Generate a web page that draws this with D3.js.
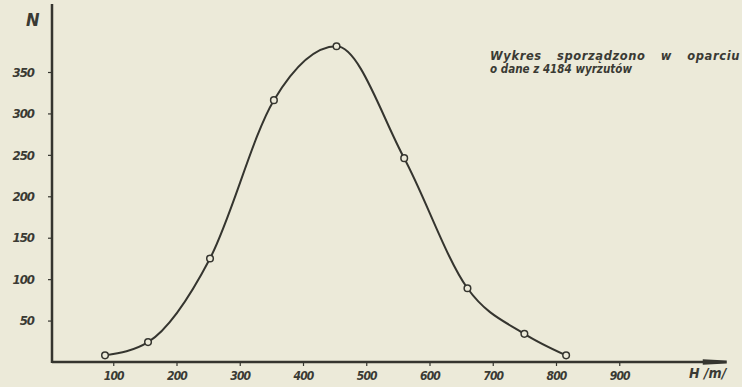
<!DOCTYPE html>
<html>
<head>
<meta charset="utf-8">
<script src="https://cdn.jsdelivr.net/npm/d3@7"></script>
<style>
  html, body { margin: 0; padding: 0; background: #ecead9; }
  svg { display: block; }
  .lbl { font-family: "DejaVu Sans Condensed", "DejaVu Sans", sans-serif; font-style: italic; font-weight: bold; fill: #3a3a34; }
  .note { font-family: "DejaVu Sans", sans-serif; }
</style>
</head>
<body>
<svg id="chart"></svg>
<script>
// height of burst H [m] and number of bursts N
var heights = [87, 155, 253, 354, 453, 560, 660, 750, 816];
var counts  = [8, 24, 125, 316, 381, 246, 89, 34, 8];

var xTicks = [100, 200, 300, 400, 500, 600, 700, 800, 900];
var yTicks = [50, 100, 150, 200, 250, 300, 350];
var xTickLabels = ["100", "200", "300", "400", "500", "600", "700", "800", "900"];
var yTickLabels = ["50", "100", "150", "200", "250", "300", "350"];

var note = ["Wykres sporządzono w oparciu", "o dane z 4184 wyrzutów"];

var width = 742, height = 387;
var ink = "#35352f", paper = "#ecead9";

var svg = d3.select("#chart")
    .attr("width", width)
    .attr("height", height);

svg.append("rect")
    .attr("width", width)
    .attr("height", height)
    .attr("fill", paper);

// scales
var x = d3.scaleLinear().domain([0, 1000]).range([50, 682.5]);
var y = d3.scaleLinear().domain([0, 350]).range([362, 72]);

var data = heights.map(function(h, i) { return {h: h, n: counts[i]}; });

// X axis
var gx = svg.append("g")
    .attr("transform", "translate(0," + y(0) + ")")
    .call(d3.axisBottom(x).tickValues(xTicks).tickSize(4)
        .tickFormat(function(d, i) { return xTickLabels[i]; }));
gx.select(".domain").remove();
gx.selectAll(".tick line").attr("stroke", ink).attr("stroke-width", 1.2);
gx.selectAll(".tick text")
    .attr("class", "lbl")
    .attr("y", 9)
    .attr("fill", ink)
    .style("font-size", "12px")
    .attr("letter-spacing", "-0.8");

svg.append("line")
    .attr("x1", x(0) + 2).attr("x2", x(1070) - 18)
    .attr("y1", y(0)).attr("y2", y(0))
    .attr("stroke", ink).attr("stroke-width", 2.5);
// arrow head
svg.append("path")
    .attr("d", "M" + (x(1070) - 24) + "," + (y(0) - 2.8) +
               "L" + x(1070) + "," + (y(0) - 1.5) +
               "L" + x(1070) + "," + (y(0) + 1.5) +
               "L" + (x(1070) - 24) + "," + (y(0) + 2.8) + "Z")
    .attr("fill", ink);

// Y axis
var gy = svg.append("g")
    .attr("transform", "translate(" + (x(0) + 2) + ",0)")
    .call(d3.axisLeft(y).tickValues(yTicks).tickSize(4)
        .tickFormat(function(d, i) { return yTickLabels[i]; }));
gy.select(".domain").remove();
gy.selectAll(".tick line").attr("stroke", ink).attr("stroke-width", 1.2);
gy.selectAll(".tick text")
    .attr("class", "lbl")
    .attr("x", -18)
    .attr("fill", ink)
    .style("font-size", "13px")
    .attr("letter-spacing", "-1");

svg.append("line")
    .attr("x1", x(0) + 2).attr("x2", x(0) + 2)
    .attr("y1", y(0) + 1).attr("y2", y(432))
    .attr("stroke", ink).attr("stroke-width", 2.5);

// axis titles
svg.append("text")
    .attr("class", "lbl")
    .attr("x", 26).attr("y", 26)
    .style("font-size", "18px")
    .text("N");

svg.append("text")
    .attr("class", "lbl")
    .attr("x", 689).attr("y", 378)
    .style("font-size", "14px")
    .text("H /m/");

// curve
var line = d3.line()
    .x(function(d) { return x(d.h); })
    .y(function(d) { return y(d.n); })
    .curve(d3.curveMonotoneX);

svg.append("path")
    .datum(data)
    .attr("d", line)
    .attr("fill", "none")
    .attr("stroke", ink)
    .attr("stroke-width", 2);

svg.selectAll("circle.pt")
    .data(data)
    .join("circle")
    .attr("class", "pt")
    .attr("cx", function(d) { return x(d.h); })
    .attr("cy", function(d) { return y(d.n); })
    .attr("r", 3.3)
    .attr("fill", paper)
    .attr("stroke", ink)
    .attr("stroke-width", 1.5);

// note, words spread out (or squeezed) to the width of the typed lines
var noteLen = [250, 142];
svg.selectAll("text.note")
    .data(note)
    .join("text")
    .attr("class", "lbl note")
    .attr("x", 490)
    .attr("y", function(d, i) { return 60 + i * 13; })
    .style("font-size", "11.5px")
    .attr("letter-spacing", "0.6")
    .text(function(d) { return d; })
    .each(function(d, i) {
        var t = d3.select(this);
        var gaps = d.split(" ").length - 1;
        var extra = (noteLen[i] - this.getComputedTextLength()) / gaps;
        if (extra >= 0) {
            t.attr("word-spacing", extra);
        } else {
            t.attr("letter-spacing", 0)
             .attr("textLength", noteLen[i])
             .attr("lengthAdjust", "spacingAndGlyphs");
        }
    });
</script>
</body>
</html>
